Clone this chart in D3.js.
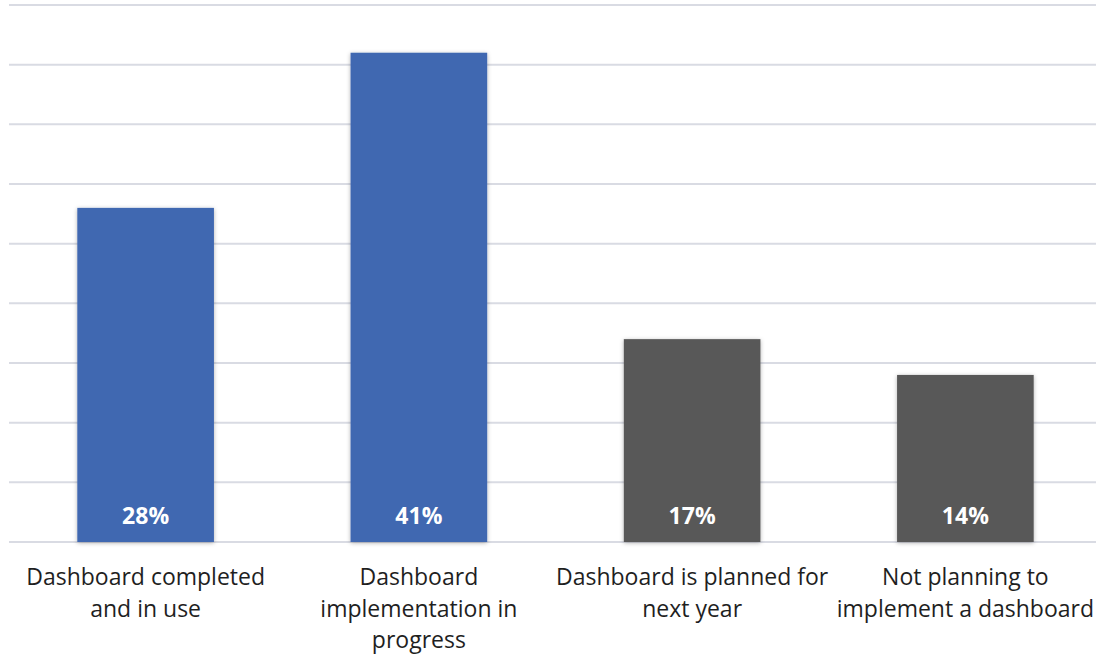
<!DOCTYPE html>
<html>
<head>
<meta charset="utf-8">
<script src="https://cdn.jsdelivr.net/npm/d3@7"></script>
<style>
  html, body { margin: 0; padding: 0; background: #ffffff; }
  svg { display: block; }
</style>
</head>
<body>
<svg id="chart" width="1096" height="656"></svg>
<script>
// Dashboard adoption status
const categories = [
  ["Dashboard completed", "and in use"],
  ["Dashboard", "implementation in", "progress"],
  ["Dashboard is planned for", "next year"],
  ["Not planning to", "implement a dashboard"]
];
const values = [28, 41, 17, 14];
const barColors = ["#4068b1", "#4068b1", "#595959", "#595959"];
const gridTicks = [0, 5, 10, 15, 20, 25, 30, 35, 40, 45];

const svg = d3.select("#chart");
const plotLeft = 9, plotRight = 1102, plotTop = 5, plotBottom = 542;

const x = d3.scaleBand()
  .domain(d3.range(values.length))
  .range([plotLeft, plotRight])
  .paddingInner(0.5)
  .paddingOuter(0.25);

const y = d3.scaleLinear().domain([0, 45]).range([plotBottom, plotTop]);

const defs = svg.append("defs");
const f = defs.append("filter").attr("id", "shadow")
  .attr("x", "-10%").attr("y", "-10%").attr("width", "120%").attr("height", "120%");
f.append("feDropShadow").attr("dx", 0).attr("dy", 1).attr("stdDeviation", 2)
  .attr("flood-color", "#000").attr("flood-opacity", 0.3);

// gridlines
svg.append("g").selectAll("line").data(gridTicks).join("line")
  .attr("x1", plotLeft).attr("x2", plotRight)
  .attr("y1", d => y(d)).attr("y2", d => y(d))
  .attr("stroke", "#d9dbe3").attr("stroke-width", 2);

// bars
svg.append("g").selectAll("rect").data(values).join("rect")
  .attr("x", (d, i) => x(i))
  .attr("y", d => y(d))
  .attr("width", x.bandwidth())
  .attr("height", d => y(0) - y(d))
  .attr("fill", (d, i) => barColors[i])
  .attr("filter", "url(#shadow)");

// value labels
svg.append("g").selectAll("text").data(values).join("text")
  .attr("x", (d, i) => x(i) + x.bandwidth() / 2)
  .attr("y", 524)
  .attr("text-anchor", "middle")
  .attr("fill", "#ffffff")
  .attr("font-family", "'Open Sans', sans-serif")
  .attr("font-weight", "bold")
  .attr("font-size", 23)
  .text(d => d + "%");

// category labels
const cat = svg.append("g").selectAll("text").data(categories).join("text")
  .attr("x", (d, i) => x(i) + x.bandwidth() / 2)
  .attr("y", 585)
  .attr("text-anchor", "middle")
  .attr("fill", "#1f1f1f")
  .attr("font-family", "'Open Sans', sans-serif")
  .attr("font-size", 23);
cat.each(function(lines, i) {
  const cx = x(i) + x.bandwidth() / 2;
  d3.select(this).selectAll("tspan").data(lines).join("tspan")
    .attr("x", cx)
    .attr("dy", (d, j) => j === 0 ? 0 : 31.5)
    .text(d => d);
});
</script>
</body>
</html>
